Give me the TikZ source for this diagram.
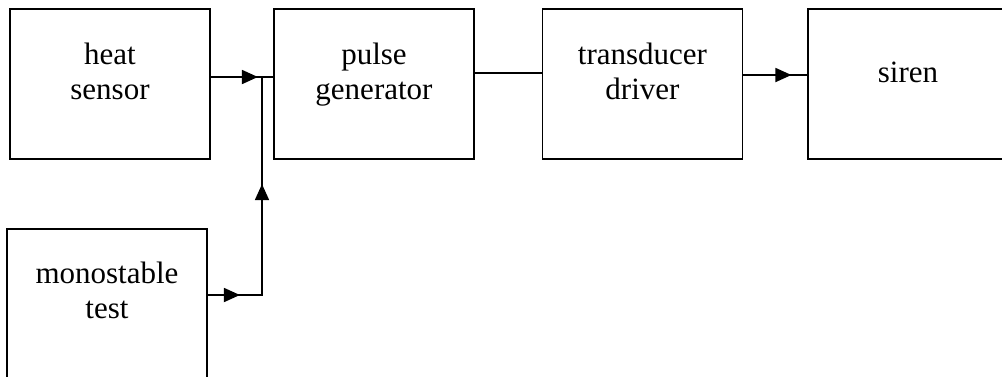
\documentclass[tikz,border=0pt]{standalone}
\usepackage{fontspec}
\setmainfont{Liberation Serif}
\usetikzlibrary{arrows.meta,decorations.markings}
\begin{document}
\begin{tikzpicture}[x=1pt, y=1pt, line width=1.8pt,
    blk/.style={draw, rectangle, minimum width=200pt, minimum height=150pt, inner sep=0pt},
    txt/.style={align=center, anchor=base, inner sep=0pt, font=\fontsize{31}{35}\selectfont},
    midarr/.style={postaction={decorate, decoration={markings,
        mark=at position #1 with {\arrow{Triangle[length=16pt,width=14pt]}}}}}]
    \useasboundingbox (0,0) rectangle (1002,-376);
    \node[blk] (heat)  at (110,-84)   {};
    \node[blk] (pulse) at (374,-84)   {};
    \node[blk] (trans) at (642.5,-84) {};
    \node[blk] (siren) at (908,-84)   {};
    \node[blk] (mono)  at (107,-304)  {};
    % text baseline = last line
    \node[txt] (heat-t)  at ([yshift=-91]heat.north)  {heat\\sensor};
    \node[txt] (pulse-t) at ([yshift=-91]pulse.north) {pulse\\generator};
    \node[txt] (trans-t) at ([yshift=-91]trans.north) {transducer\\driver};
    \node[txt] (siren-t) at ([yshift=-74]siren.north) {siren};
    \node[txt] (mono-t)  at ([yshift=-90]mono.north)  {monostable\\test};
    \coordinate (jn)   at (262,-77);
    \coordinate (bend) at (262,-295);
    \draw[midarr=47pt] (heat.east |- jn) -- (pulse.west |- jn);
    \draw ([yshift=11]pulse.east) -- ([yshift=11]trans.west);
    \draw[midarr=48pt] ([yshift=9]trans.east) -- ([yshift=9]siren.west);
    \draw[midarr=32pt, midarr=165pt] (mono.east |- bend) -- (bend) -- (jn);
  \end{tikzpicture}
\end{document}
